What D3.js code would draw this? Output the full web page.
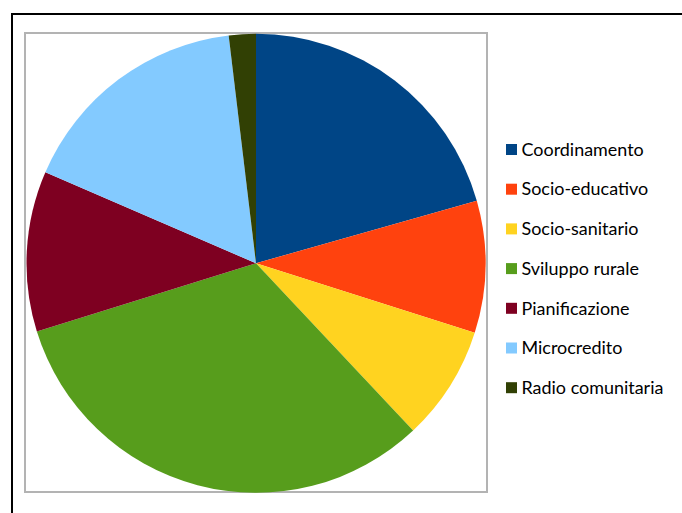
<!DOCTYPE html>
<html>
<head>
<meta charset="utf-8">
<script src="https://cdn.jsdelivr.net/npm/d3@7"></script>
<style>
  body { margin: 0; background: #fff; }
  .legend-label { font-family: Lato, "Open Sans", sans-serif; fill: #000; }
</style>
</head>
<body>
<div id="chart"></div>
<script>
// chart data (shares of the total)
const categories = [
  "Coordinamento",
  "Socio-educativo",
  "Socio-sanitario",
  "Sviluppo rurale",
  "Pianificazione",
  "Microcredito",
  "Radio comunitaria"
];
const values = [20.6, 9.3, 8.1, 32.2, 11.3, 16.6, 1.9];
const colors = ["#004586", "#ff420e", "#ffd320", "#579d1c", "#7e0021", "#83caff", "#314004"];

const width = 682;
const height = 513;

const svg = d3
  .select("#chart")
  .append("svg")
  .attr("width", width)
  .attr("height", height);

// outer frame, runs off the right and bottom edges
svg
  .append("rect")
  .attr("x", 12)
  .attr("y", 14)
  .attr("width", 700)
  .attr("height", 600)
  .attr("fill", "none")
  .attr("stroke", "#000")
  .attr("stroke-width", 2);

// plot area
svg
  .append("rect")
  .attr("x", 25)
  .attr("y", 33)
  .attr("width", 462)
  .attr("height", 459)
  .attr("fill", "none")
  .attr("stroke", "#b3b3b3")
  .attr("stroke-width", 2);

const center = { x: 256, y: 263.3 };
const radius = 229.5;

const color = d3.scaleOrdinal().domain(categories).range(colors);

const pie = d3
  .pie()
  .sort(null)
  .value(d => d.value);

const arc = d3.arc().innerRadius(0).outerRadius(radius);

const data = categories.map((name, i) => ({ name, value: values[i] }));

svg
  .append("g")
  .attr("transform", `translate(${center.x},${center.y})`)
  .selectAll("path")
  .data(pie(data))
  .join("path")
  .attr("d", arc)
  .attr("fill", d => color(d.data.name));

// legend
const legend = svg.append("g").attr("transform", "translate(506,144)");
const rowStep = 39.7;

const rows = legend
  .selectAll("g")
  .data(categories)
  .join("g")
  .attr("transform", (d, i) => `translate(0,${i * rowStep})`);

rows
  .append("rect")
  .attr("width", 11)
  .attr("height", 11)
  .attr("fill", d => color(d));

const labels = rows
  .append("text")
  .attr("class", "legend-label")
  .attr("x", 15.5)
  .attr("y", 11.7)
  .style("font-size", "100px")
  .text(d => d);

// size the labels so the longest one is as wide as in the picture
const longest = labels.filter(d => d === "Radio comunitaria").node();
const fontSize = (100 * 142) / longest.getComputedTextLength();
labels.style("font-size", fontSize.toFixed(2) + "px");
</script>
</body>
</html>
